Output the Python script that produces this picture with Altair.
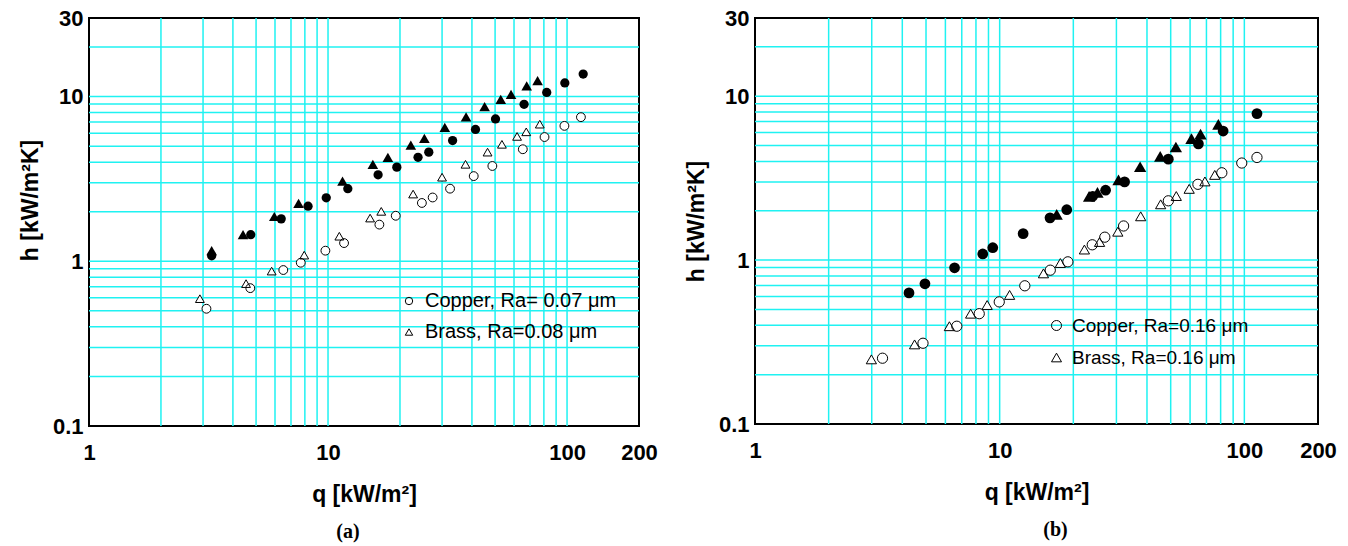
import altair as alt
import pandas as pd

# ---------------- data ----------------
X_TICKS = [1, 10, 100, 200]
Y_TICKS = [0.1, 1, 10, 30]
X_GRID = [2, 3, 4, 5, 6, 7, 8, 9, 10, 20, 30, 40, 50, 60, 70, 80, 90, 100]
Y_GRID = [0.2, 0.3, 0.4, 0.5, 0.6, 0.7, 0.8, 0.9, 1, 2, 3, 4, 5, 6, 7, 8, 9, 10, 20]

# panel (a)
a_labels = ["Copper, Ra= 0.07 \u03bcm", "Brass, Ra=0.08 \u03bcm"]
a_open_circ_q = [3.10, 4.73, 6.50, 7.69, 9.75, 11.67, 16.4, 19.2, 24.7, 27.4, 32.4, 40.7, 48.7, 65.3, 80.5, 97.5, 114.3]
a_open_circ_h = [0.515, 0.687, 0.885, 0.98, 1.16, 1.29, 1.67, 1.89, 2.26, 2.44, 2.76, 3.29, 3.79, 4.79, 5.68, 6.64, 7.50]
a_open_tri_q = [2.91, 4.54, 5.81, 7.95, 11.15, 15.0, 16.7, 22.7, 30.0, 37.6, 46.5, 53.4, 61.8, 67.5, 76.9]
a_open_tri_h = [0.593, 0.732, 0.872, 1.09, 1.42, 1.83, 2.01, 2.56, 3.24, 3.88, 4.60, 5.13, 5.73, 6.11, 6.80]
a_fill_circ_q = [3.26, 4.75, 6.37, 8.25, 9.83, 12.1, 16.2, 19.4, 23.8, 26.4, 33.2, 41.4, 50.2, 66.1, 82.2, 97.9, 116.8]
a_fill_circ_h = [1.08, 1.45, 1.81, 2.16, 2.43, 2.76, 3.35, 3.73, 4.28, 4.60, 5.41, 6.32, 7.32, 8.98, 10.6, 12.1, 13.7]
a_fill_tri_q = [3.26, 4.41, 5.96, 7.53, 11.5, 15.4, 17.8, 22.2, 25.3, 30.8, 37.8, 45.2, 52.8, 58.3, 67.8, 75.3]
a_fill_tri_h = [1.16, 1.45, 1.87, 2.25, 3.07, 3.88, 4.28, 5.08, 5.57, 6.51, 7.54, 8.68, 9.62, 10.3, 11.6, 12.5]

# panel (b)
b_labels = ["Copper, Ra=0.16 \u03bcm", "Brass, Ra=0.16 \u03bcm"]
b_open_circ_q = [3.32, 4.86, 6.68, 8.25, 9.96, 12.67, 16.1, 19.0, 23.9, 26.9, 32.1, 48.9, 64.6, 80.9, 97.6, 112.6]
b_open_circ_h = [0.252, 0.311, 0.395, 0.471, 0.556, 0.697, 0.868, 0.976, 1.24, 1.38, 1.615, 2.30, 2.90, 3.41, 3.91, 4.23]
b_open_tri_q = [2.99, 4.49, 6.23, 7.61, 8.89, 10.98, 15.1, 17.7, 22.2, 25.6, 30.4, 37.7, 45.5, 52.7, 59.5, 69.0, 75.7]
b_open_tri_h = [0.248, 0.306, 0.395, 0.471, 0.532, 0.613, 0.830, 0.96, 1.16, 1.29, 1.49, 1.85, 2.19, 2.46, 2.72, 3.02, 3.31]
b_fill_circ_q = [4.26, 4.95, 6.54, 8.53, 9.37, 12.47, 16.06, 18.8, 24.0, 27.1, 32.4, 48.9, 64.9, 81.9, 112.6]
b_fill_circ_h = [0.631, 0.717, 0.898, 1.09, 1.19, 1.45, 1.81, 2.03, 2.45, 2.67, 3.00, 4.13, 5.12, 6.13, 7.83]
b_fill_tri_q = [17.1, 23.2, 25.1, 30.6, 37.5, 45.3, 52.5, 60.8, 66.2, 78.3]
b_fill_tri_h = [1.90, 2.45, 2.59, 3.09, 3.71, 4.29, 4.90, 5.51, 5.87, 6.73]

CYAN = "#1ff2f2"
SANS = "Liberation Sans"


def panel(labels, oc, ot, fc, ft, width, height, msize, leg, caption, cap_dx, title_y):
    xs = alt.Scale(type="log", domain=[1, 200], nice=False)
    ys = alt.Scale(type="log", domain=[0.1, 30], nice=False)
    xa = alt.Axis(values=X_TICKS, format="~g", title="q [kW/m\u00b2]", grid=False, ticks=False,
                  domain=False, labelFont=SANS, labelFontSize=22, labelFontWeight="bold",
                  labelColor="black", labelPadding=16, labelFlush=False, labelOverlap=False,
                  titleFont=SANS, titleFontSize=23, titleFontWeight="bold", titleColor="black",
                  titlePadding=20)
    ya = alt.Axis(values=Y_TICKS, format="~g", title="h [kW/m\u00b2K]", grid=False, ticks=False,
                  domain=False, labelFont=SANS, labelFontSize=22, labelFontWeight="bold",
                  labelColor="black", labelPadding=6, labelFlush=False, labelOverlap=False,
                  titleFont=SANS, titleFontSize=23, titleFontWeight="bold", titleColor="black",
                  titlePadding=10, titleY=title_y)
    X = alt.X("q:Q", scale=xs, axis=xa)
    Y = alt.Y("h:Q", scale=ys, axis=ya)

    gx = alt.Chart(pd.DataFrame({"q": X_GRID})).mark_rule(color=CYAN, strokeWidth=1.5).encode(x=X)
    gy = alt.Chart(pd.DataFrame({"h": Y_GRID})).mark_rule(color=CYAN, strokeWidth=1.5).encode(y=Y)

    oc_df = pd.DataFrame({"q": oc[0], "h": oc[1], "series": labels[0]})
    ot_df = pd.DataFrame({"q": ot[0], "h": ot[1], "series": labels[1]})
    open_df = pd.concat([oc_df, ot_df])
    # white bodies behind the open markers (fixed shapes, no legend)
    body_c = alt.Chart(oc_df).mark_point(shape="circle", filled=True, color="white", opacity=1,
                                         size=msize).encode(x=X, y=Y)
    body_t = alt.Chart(ot_df).mark_point(shape="triangle-up", filled=True, color="white",
                                         opacity=1, size=msize).encode(x=X, y=Y)
    opens = alt.Chart(open_df).mark_point(filled=False, color="black", strokeWidth=1,
                                          opacity=1, size=msize).encode(
        x=X, y=Y,
        shape=alt.Shape("series:N",
                        scale=alt.Scale(domain=labels, range=["circle", "triangle-up"]),
                        legend=alt.Legend(orient="none", legendX=leg[0], legendY=leg[1], title=None,
                                          labelFont=SANS, labelFontSize=leg[2], labelColor="black",
                                          labelLimit=400, symbolSize=leg[3],
                                          symbolStrokeColor="black", symbolStrokeWidth=1,
                                          rowPadding=leg[4], labelOffset=6)),
    )
    fcirc = alt.Chart(pd.DataFrame({"q": fc[0], "h": fc[1]})).mark_point(
        shape="circle", filled=True, color="black", opacity=1, size=msize * 1.1).encode(x=X, y=Y)
    ftri = alt.Chart(pd.DataFrame({"q": ft[0], "h": ft[1]})).mark_point(
        shape="triangle-up", filled=True, color="black", opacity=1, size=msize * 1.45).encode(x=X, y=Y)

    return alt.layer(gx, gy, body_c, body_t, opens, fcirc, ftri).properties(
        width=width, height=height,
        title=alt.TitleParams(caption, orient="bottom", font="Liberation Serif", fontSize=20,
                              fontWeight="bold", color="black", dx=cap_dx, offset=16, frame="group"),
    )


left = panel(a_labels, (a_open_circ_q, a_open_circ_h), (a_open_tri_q, a_open_tri_h),
             (a_fill_circ_q, a_fill_circ_h), (a_fill_tri_q, a_fill_tri_h),
             550, 408, 78, (310, 273, 20, 55, 11), "(a)", -16, 182)
right = panel(b_labels, (b_open_circ_q, b_open_circ_h), (b_open_tri_q, b_open_tri_h),
              (b_fill_circ_q, b_fill_circ_h), (b_fill_tri_q, b_fill_tri_h),
              563, 406, 105, (292, 298, 19, 100, 12), "(b)", 19, 203)

chart = alt.hconcat(left, right, spacing=25).resolve_scale(shape="independent").resolve_legend(
    shape="independent").properties(
    padding={"left": 18, "top": 6, "right": 4, "bottom": 0}, background="white"
).configure_view(stroke="black", strokeWidth=2)

chart.save("out.html", embed_options={"renderer": "svg", "actions": False})
